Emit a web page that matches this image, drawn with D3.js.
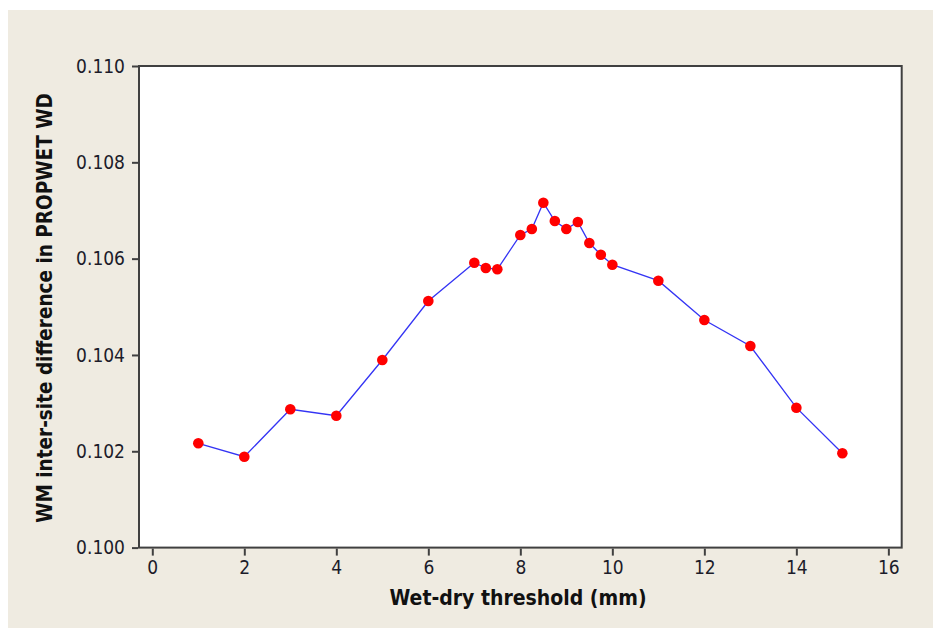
<!DOCTYPE html>
<html>
<head>
<meta charset="utf-8">
<script src="https://cdn.jsdelivr.net/npm/d3@7"></script>
<style>
  html, body { margin: 0; padding: 0; background: #fff; }
  svg { display: block; }
  .tick text { font-family: 'DejaVu Sans Condensed', 'DejaVu Sans', sans-serif; font-size: 19px; fill: #1c1c2a; }
  .title { font-family: 'DejaVu Sans Condensed', 'DejaVu Sans', sans-serif; font-weight: bold; fill: #111; }
</style>
</head>
<body>
<script>
const thresholds = [1, 2, 3, 4, 5, 6, 7, 7.25, 7.5, 8, 8.25, 8.5, 8.75, 9, 9.25, 9.5, 9.75, 10, 11, 12, 13, 14, 15];
const differences = [0.102166, 0.101887, 0.102872, 0.102739, 0.103895, 0.105120, 0.105916, 0.105806, 0.105779,
  0.106491, 0.106616, 0.107162, 0.106782, 0.106616, 0.106761, 0.106325, 0.106082, 0.105874,
  0.105542, 0.104726, 0.104186, 0.102905, 0.101958];
const xTicks = [0, 2, 4, 6, 8, 10, 12, 14, 16];
const yTicks = [0.100, 0.102, 0.104, 0.106, 0.108, 0.110];

const width = 933;
const height = 628;
const plot = { left: 139, top: 66, right: 901.7, bottom: 547.6 };

const svg = d3.select('body')
  .append('svg')
  .attr('width', width)
  .attr('height', height);

// beige panel, white strip at top and left
svg.append('rect')
  .attr('x', 8)
  .attr('y', 10)
  .attr('width', width - 8)
  .attr('height', height - 10)
  .attr('fill', '#efebe1');

const x = d3.scaleLinear()
  .domain([-0.289, 16.29])
  .range([plot.left, plot.right]);

const y = d3.scaleLinear()
  .domain([0.100, 0.110])
  .range([plot.bottom, plot.top]);

svg.append('rect')
  .attr('x', plot.left)
  .attr('y', plot.top)
  .attr('width', plot.right - plot.left)
  .attr('height', plot.bottom - plot.top)
  .attr('fill', '#fff')
  .attr('stroke', '#404040')
  .attr('stroke-width', 2);

const xAxis = svg.append('g')
  .attr('transform', `translate(0,${ plot.bottom + 1 })`)
  .call(d3.axisBottom(x).tickValues(xTicks).tickSizeInner(7).tickSizeOuter(0).tickPadding(5).tickFormat(d3.format('d')));

const yAxis = svg.append('g')
  .attr('transform', `translate(${ plot.left - 1 },0)`)
  .call(d3.axisLeft(y).tickValues(yTicks).tickSizeInner(6).tickSizeOuter(0).tickPadding(7).tickFormat(d3.format('.3f')));

[xAxis, yAxis].forEach(a => {
  a.select('.domain').remove();
  a.selectAll('.tick line').attr('stroke', '#404040').attr('stroke-width', 2);
});

const points = thresholds.map((t, i) => ({ t: t, v: differences[i] }));

const line = d3.line()
  .x(d => x(d.t))
  .y(d => y(d.v));

svg.append('path')
  .datum(points)
  .attr('d', line)
  .attr('fill', 'none')
  .attr('stroke', '#3434f4')
  .attr('stroke-width', 1.3);

svg.append('g')
  .selectAll('circle')
  .data(points)
  .enter()
  .append('circle')
  .attr('cx', d => x(d.t))
  .attr('cy', d => y(d.v))
  .attr('r', 5.3)
  .attr('fill', '#ff0000');

svg.append('text')
  .attr('class', 'title')
  .attr('x', 518)
  .attr('y', 605)
  .attr('text-anchor', 'middle')
  .style('font-size', '21px')
  .text('Wet-dry threshold (mm)');

svg.append('text')
  .attr('class', 'title')
  .attr('transform', `translate(52,308) rotate(-90)`)
  .attr('text-anchor', 'middle')
  .style('font-size', '20.5px')
  .text('WM inter-site difference in PROPWET WD');
</script>
</body>
</html>
